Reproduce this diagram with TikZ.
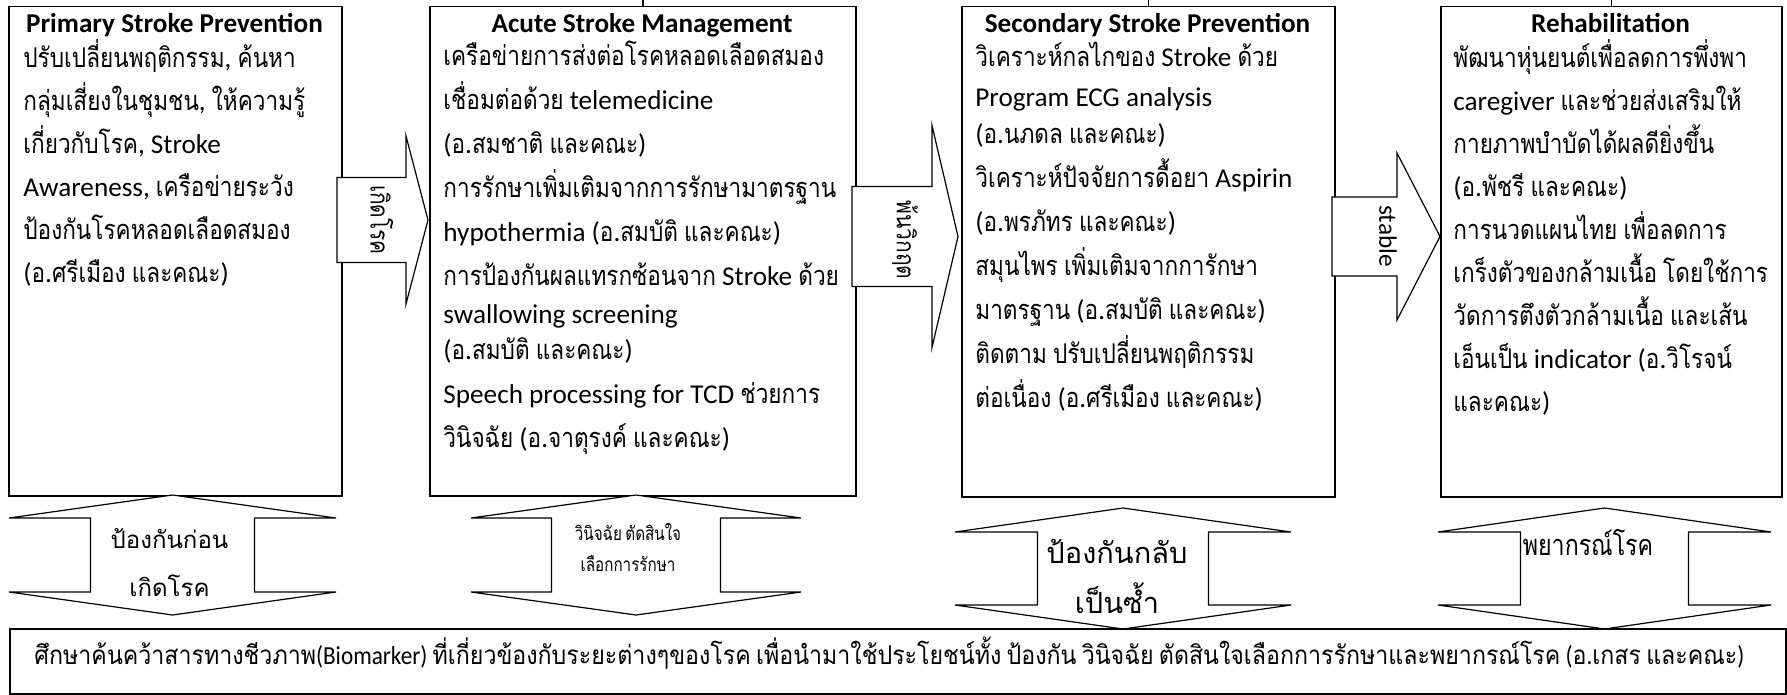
\documentclass[tikz,border=0pt]{standalone}
\usepackage{fontspec}
\usepackage{graphicx}
\setmainfont{Carlito}
\newfontfamily\thaifont[Script=Thai,FakeStretch=0.83]{Loma}
\newfontfamily\thaiplain[Script=Thai]{Loma}
\newfontfamily\thainarrow[Script=Thai,FakeStretch=0.8]{Loma}
\newfontfamily\latinnarrow[FakeStretch=0.8]{Carlito}
\usepackage{tikz}
\usetikzlibrary{positioning}

% Thai letters pick their own font
\XeTeXinterchartokenstate=1
\newXeTeXintercharclass\thaiclass
\newcount\thaichar
\thaichar="0E01
\loop
  \XeTeXcharclass\thaichar=\thaiclass
  \advance\thaichar by 1
\ifnum\thaichar<"0E5C \repeat
\newcommand{\thaiswitch}{\thaifont}
\newcommand{\latinswitch}{\rmfamily}
\XeTeXinterchartoks 0 \thaiclass = {\thaiswitch}
\XeTeXinterchartoks 4095 \thaiclass = {\thaiswitch}
\XeTeXinterchartoks \thaiclass 0 = {\latinswitch}
\XeTeXinterchartoks \thaiclass 4095 = {\latinswitch}

\newcommand{\bodysize}{\fontsize{13.6pt}{21.5pt}\selectfont}
\newcommand{\narrowtext}{%
  \renewcommand{\thaiswitch}{\thainarrow}%
  \renewcommand{\latinswitch}{\latinnarrow}\latinnarrow}
\newcommand{\plaintext}{\renewcommand{\thaiswitch}{\thaiplain}}

\tikzset{
  stagebox/.style={draw, line width=0.75pt, anchor=north west, inner sep=0pt},
  blockarrow/.style={draw, fill=white, line width=0.6pt, line join=miter}
}
\tikzset{
  headtext/.style={font=\bodysize\bfseries, anchor=base, inner sep=0pt},
  bodytext/.style={font=\bodysize, anchor=base west, inner sep=0pt},
  sidetext/.style={font=\fontsize{12.6pt}{14pt}\selectfont, rotate=-90, inner sep=0pt},
  phasetext/.style={align=center, inner sep=0pt}
}

% right block arrow: shaft start, head base, tip, mid y, shaft half, head half
\newcommand{\hblock}[6]{%
  \draw[blockarrow] (#1,#4-#5) -- (#2,#4-#5) -- (#2,#4-#6) -- (#3,#4)
    -- (#2,#4+#6) -- (#2,#4+#5) -- (#1,#4+#5) -- cycle;}
% up-down block arrow: mid x, wing half, shaft half, top tip, head, shaft
\newcommand{\vblock}[6]{%
  \draw[blockarrow] (#1,#4) -- (#1+#2,#4+#5) -- (#1+#3,#4+#5)
    -- (#1+#3,#4+#5+#6) -- (#1+#2,#4+#5+#6) -- (#1,#4+2*#5+#6)
    -- (#1-#2,#4+#5+#6) -- (#1-#3,#4+#5+#6) -- (#1-#3,#4+#5)
    -- (#1-#2,#4+#5) -- cycle;}

\begin{document}
\begin{tikzpicture}[x=0.5pt, y=-0.5pt]
  \useasboundingbox (0,0) rectangle (1787,695);

  % the four stages
  \node[stagebox, minimum width=166.5pt, minimum height=244.5pt] (primary) at (8,6) {};
  \node[stagebox, minimum width=213pt, minimum height=244.5pt] (acute) at (429,6) {};
  \node[stagebox, minimum width=186.5pt, minimum height=245pt] (secondary) at (961,6) {};
  \node[stagebox, minimum width=170.5pt, minimum height=245pt] (rehab) at (1440,6) {};
  \draw[line width=0.75pt] (acute.north) -- ++(0,-6);
  \draw[line width=0.75pt] (secondary.north) -- ++(0,-6);
  \draw[line width=0.75pt] (rehab.north) -- ++(0,-6);

  \node[headtext] (primaryhead) at (174.5,33) {Primary Stroke Prevention};
  \node[headtext] (acutehead) at (642,33) {Acute Stroke Management};
  \node[headtext] (secondaryhead) at (1147.5,33) {Secondary Stroke Prevention};
  \node[headtext] (rehabhead) at (1610.5,33) {Rehabilitation};

  \node[bodytext] (primarytext) at (23,68) {\parbox[t]{250pt}{%
    ปรับเปลี่ยนพฤติกรรม, ค้นหา\\
    กลุ่มเสี่ยงในชุมชน, ให้ความรู้\\
    เกี่ยวกับโรค, Stroke\\
    Awareness, เครือข่ายระวัง\\
    ป้องกันโรคหลอดเลือดสมอง\\
    (อ.ศรีเมือง และคณะ)}};
  \node[bodytext] (acutetext) at (443,66) {\parbox[t]{250pt}{\baselineskip=22pt
    เครือข่ายการส่งต่อโรคหลอดเลือดสมอง\\
    เชื่อมต่อด้วย telemedicine\\
    (อ.สมชาติ และคณะ)\\
    การรักษาเพิ่มเติมจากการรักษามาตรฐาน\\
    hypothermia (อ.สมบัติ และคณะ)\\
    การป้องกันผลแทรกซ้อนจาก Stroke ด้วย\\[-3pt]
    swallowing screening\\[-4pt]
    (อ.สมบัติ และคณะ)\\
    Speech processing for TCD ช่วยการ\\
    วินิจฉัย (อ.จาตุรงค์ และคณะ)}};
  \node[bodytext] (secondarytext) at (975,67) {\parbox[t]{250pt}{\baselineskip=22pt
    วิเคราะห์กลไกของ Stroke ด้วย\\[-2pt]
    Program ECG analysis\\[-3.5pt]
    (อ.นภดล และคณะ)\\
    วิเคราะห์ปัจจัยการดื้อยา Aspirin\\
    (อ.พรภัทร และคณะ)\\
    สมุนไพร เพิ่มเติมจากการักษา\\
    มาตรฐาน (อ.สมบัติ และคณะ)\\
    ติดตาม ปรับเปลี่ยนพฤติกรรม\\
    ต่อเนื่อง (อ.ศรีเมือง และคณะ)}};
  \node[bodytext] (rehabtext) at (1453,68) {\parbox[t]{250pt}{%
    พัฒนาหุ่นยนต์เพื่อลดการพึ่งพา\\
    caregiver และช่วยส่งเสริมให้\\
    กายภาพบำบัดได้ผลดียิ่งขึ้น\\
    (อ.พัชรี และคณะ)\\
    การนวดแผนไทย เพื่อลดการ\\
    เกร็งตัวของกล้ามเนื้อ โดยใช้การ\\
    วัดการตึงตัวกล้ามเนื้อ และเส้น\\
    เอ็นเป็น indicator (อ.วิโรจน์\\
    และคณะ)}};

  % arrows between the stages
  \hblock{337}{406}{428}{220}{42.5}{84}
  \hblock{852}{932}{958}{236.5}{50}{111}
  \hblock{1332}{1397}{1440}{236.5}{39.5}{83.5}
  \node[sidetext] (onset) at (382,220) {เกิดโรค};
  \node[sidetext] (survived) at (905,240) {พ้นวิกฤต};
  \node[sidetext] (stable) at (1388,236) {stable};

  % two-way arrows under the stages
  \vblock{172.5}{163.5}{82}{495}{23}{74}
  \vblock{636}{165}{84.5}{495}{23}{74}
  \vblock{1123}{168}{85.5}{508}{24}{73}
  \vblock{1604.5}{166.5}{84}{508}{24}{73}
  \node[phasetext, font={\plaintext\fontsize{12pt}{24pt}\selectfont}] (prevent) at (169.5,563) {ป้องกันก่อน\\เกิดโรค};
  \node[phasetext, font={\narrowtext\fontsize{9.5pt}{15.5pt}\selectfont}] (decide) at (628,548) {วินิจฉัย ตัดสินใจ\\เลือกการรักษา};
  \node[phasetext, font={\plaintext\fontsize{14.5pt}{25pt}\selectfont}] (recur) at (1117,576) {ป้องกันกลับ\\เป็นซ้ำ};
  \node[phasetext, font={\narrowtext\fontsize{14.5pt}{20pt}\selectfont}] (prognosis) at (1588,543) {พยากรณ์โรค};

  % biomarker study
  \node[stagebox, minimum width=888pt, minimum height=32.5pt] (biomarker) at (9,628) {};
  \node[anchor=base west, inner sep=0pt, font={\narrowtext\fontsize{13pt}{15pt}\selectfont}] (biotext) at (34,664)
    {\resizebox{855pt}{\height}{ศึกษาค้นคว้าสารทางชีวภาพ(Biomarker) ที่เกี่ยวข้องกับระยะต่างๆของโรค เพื่อนำมาใช้ประโยชน์ทั้ง ป้องกัน วินิจฉัย ตัดสินใจเลือกการรักษาและพยากรณ์โรค (อ.เกสร และคณะ)}};
\end{tikzpicture}
\end{document}
